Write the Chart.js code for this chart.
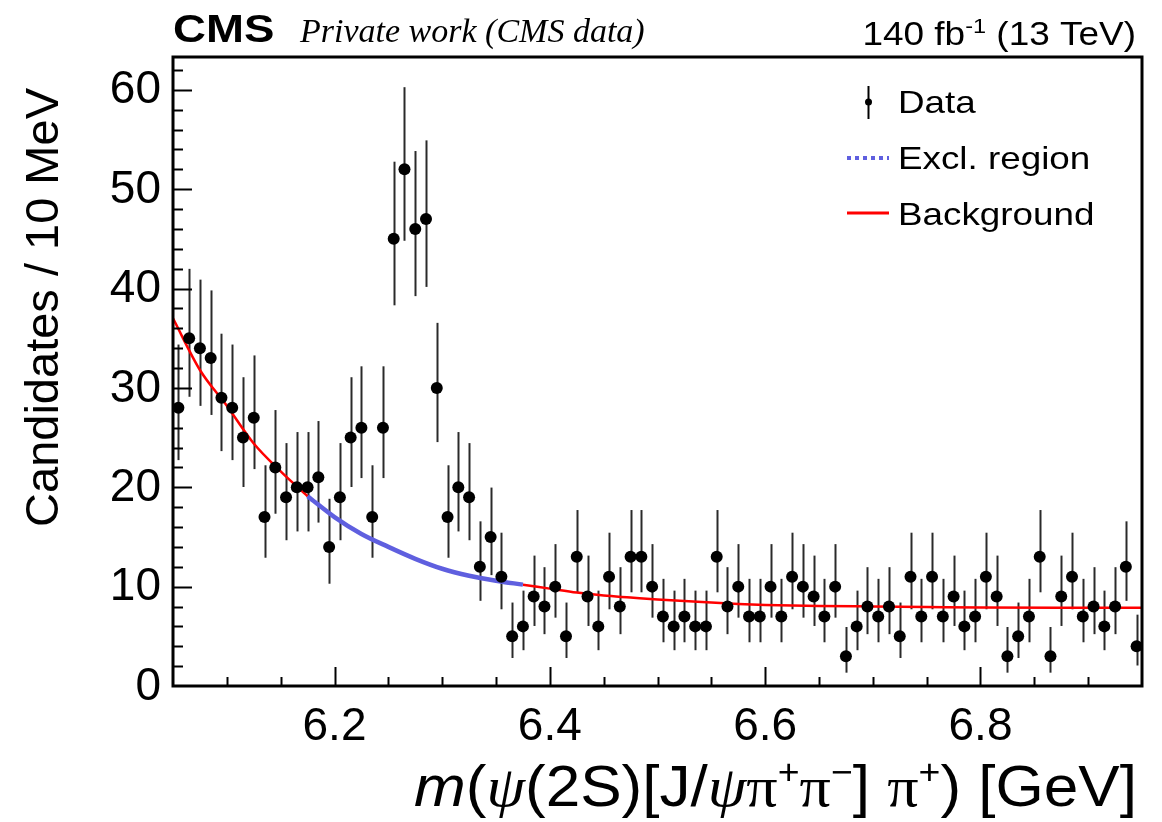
<!DOCTYPE html>
<html lang="en">
<head>
<meta charset="UTF-8" />
<title>m(psi(2S) pi+) - CMS private work</title>
<script src="https://cdn.jsdelivr.net/npm/chart.js"></script>
<style>
  html, body { margin: 0; padding: 0; background: #fff; }
  #wrap { width: 1162px; height: 822px; }
</style>
</head>
<body>
<div id="wrap"><canvas id="massChart" width="1162" height="822"></canvas></div>
<script>
// bin centres (GeV), 10 MeV bins
const massBins = [
  6.055, 6.065, 6.075, 6.085, 6.095, 6.105, 6.115, 6.125, 6.135, 6.145,
  6.155, 6.165, 6.175, 6.185, 6.195, 6.205, 6.215, 6.225, 6.235, 6.245,
  6.255, 6.265, 6.275, 6.285, 6.295, 6.305, 6.315, 6.325, 6.335, 6.345,
  6.355, 6.365, 6.375, 6.385, 6.395, 6.405, 6.415, 6.425, 6.435, 6.445,
  6.455, 6.465, 6.475, 6.485, 6.495, 6.505, 6.515, 6.525, 6.535, 6.545,
  6.555, 6.565, 6.575, 6.585, 6.595, 6.605, 6.615, 6.625, 6.635, 6.645,
  6.655, 6.665, 6.675, 6.685, 6.695, 6.705, 6.715, 6.725, 6.735, 6.745,
  6.755, 6.765, 6.775, 6.785, 6.795, 6.805, 6.815, 6.825, 6.835, 6.845,
  6.855, 6.865, 6.875, 6.885, 6.895, 6.905, 6.915, 6.925, 6.935, 6.945
];
const counts = [
  28, 35, 34, 33, 29, 28, 25, 27, 17, 22,
  19, 20, 20, 21, 14, 19, 25, 26, 17, 26,
  45, 52, 46, 47, 30, 17, 20, 19, 12, 15,
  11, 5, 6, 9, 8, 10, 5, 13, 9, 6,
  11, 8, 13, 13, 10, 7, 6, 7, 6, 6,
  13, 8, 10, 7, 7, 10, 7, 11, 10, 9,
  7, 10, 3, 6, 8, 7, 8, 5, 11, 7,
  11, 7, 9, 6, 7, 11, 9, 3, 5, 7,
  13, 3, 9, 11, 7, 8, 6, 8, 12, 4
];

// background curve
const bkgMass = [
  6.050, 6.075, 6.100, 6.125, 6.150, 6.175, 6.200, 6.225, 6.250, 6.275,
  6.300, 6.325, 6.350, 6.375, 6.400, 6.425, 6.450, 6.475, 6.500, 6.525,
  6.550, 6.575, 6.600, 6.650, 6.700, 6.750, 6.800, 6.875, 6.950
];
const bkgLevel = [
  37.0, 31.8, 28.2, 24.4, 21.6, 19.1, 17.0, 15.3, 14.0, 12.8,
  11.8, 11.1, 10.6, 10.2, 9.8, 9.4, 9.1, 8.9, 8.7, 8.55,
  8.4, 8.25, 8.15, 8.05, 8.0, 7.95, 7.9, 7.88, 7.88
];
const exclRange = [6.175, 6.375];

const xTickValues = [6.2, 6.4, 6.6, 6.8];
const xTickLabels = ['6.2', '6.4', '6.6', '6.8'];
const yTickValues = [0, 10, 20, 30, 40, 50, 60];
const yTickLabels = ['0', '10', '20', '30', '40', '50', '60'];

const SANS = '"Liberation Sans", Arial, Helvetica, sans-serif';
const SERIF = '"Liberation Serif", "Times New Roman", serif';

const dataPts = massBins.map((m, i) => ({ x: m, y: counts[i] }));
const bkgPts = bkgMass.map((m, i) => ({ x: m, y: bkgLevel[i] }));
const bkgLow = bkgPts.filter(p => p.x <= exclRange[0]);
const bkgExcl = bkgPts.filter(p => p.x >= exclRange[0] && p.x <= exclRange[1]);
const bkgHigh = bkgPts.filter(p => p.x >= exclRange[1]);

// approximate poisson (Gehrels) 1 sigma interval
function poissonErr(n) {
  return { lo: n > 0 ? Math.sqrt(n - 0.25) : 0, hi: 1 + Math.sqrt(n + 0.75) };
}

// draw a run of text pieces, each with its own font / raise, stretched by sx
function drawPieces(ctx, pieces, x, y, align, sx) {
  sx = sx || 1;
  let total = 0;
  pieces.forEach(p => { ctx.font = p.font; p.w = ctx.measureText(p.t).width; total += p.w; });
  const x0 = align === 'right' ? x - total * sx : x;
  ctx.save();
  ctx.translate(x0, y);
  ctx.scale(sx, 1);
  ctx.textAlign = 'left';
  ctx.textBaseline = 'alphabetic';
  let cx = 0;
  pieces.forEach(p => {
    ctx.font = p.font;
    ctx.fillText(p.t, cx, -(p.dy || 0));
    cx += p.w;
  });
  ctx.restore();
}

const rootStyle = {
  id: 'rootStyle',
  beforeDatasetsDraw(chart) {
    const ctx = chart.ctx, xs = chart.scales.x, ys = chart.scales.y;
    ctx.save();
    ctx.strokeStyle = '#2a2a2a';
    ctx.lineWidth = 2;
    dataPts.forEach(p => {
      const e = poissonErr(p.y);
      const px = Math.round(xs.getPixelForValue(p.x)) + 0.5;
      ctx.beginPath();
      ctx.moveTo(px, ys.getPixelForValue(p.y - e.lo));
      ctx.lineTo(px, ys.getPixelForValue(p.y + e.hi));
      ctx.stroke();
    });
    ctx.restore();
  },
  afterDraw(chart) {
    const ctx = chart.ctx, xs = chart.scales.x, ys = chart.scales.y;
    const a = chart.chartArea;
    ctx.save();
    ctx.fillStyle = '#000';
    ctx.strokeStyle = '#000';

    // inward ticks
    ctx.lineWidth = 2;
    for (let v = 2; v < ys.max; v += 2) {
      const py = Math.round(ys.getPixelForValue(v)) + 0.5;
      const len = (v % 10 === 0) ? 19 : 10;
      ctx.beginPath(); ctx.moveTo(a.left, py); ctx.lineTo(a.left + len, py); ctx.stroke();
    }
    for (let k = 1; k < 18; k++) {
      const v = 6.05 + k * 0.05;
      const px = Math.round(xs.getPixelForValue(v)) + 0.5;
      const len = (k % 4 === 3) ? 19 : 9;
      ctx.beginPath(); ctx.moveTo(px, a.bottom); ctx.lineTo(px, a.bottom - len); ctx.stroke();
    }

    // frame
    ctx.lineWidth = 3;
    ctx.strokeRect(a.left, a.top, a.right - a.left, a.bottom - a.top);

    // tick labels
    ctx.font = '46px ' + SANS;
    ctx.textAlign = 'right';
    ctx.textBaseline = 'middle';
    yTickValues.forEach((v, i) => ctx.fillText(yTickLabels[i], a.left - 12, ys.getPixelForValue(v) + 1));
    ctx.textAlign = 'center';
    ctx.textBaseline = 'alphabetic';
    xTickValues.forEach((v, i) => ctx.fillText(xTickLabels[i], xs.getPixelForValue(v), 740));

    // y axis title
    ctx.save();
    ctx.translate(58, 88);
    ctx.rotate(-Math.PI / 2);
    ctx.font = '47px ' + SANS;
    ctx.textAlign = 'right';
    ctx.textBaseline = 'alphabetic';
    ctx.fillText('Candidates / 10 MeV', 0, 0);
    ctx.restore();

    // x axis title
    const fs = 58;
    const norm = fs + 'px ' + SANS;
    const sup = Math.round(fs * 0.6) + 'px ' + SANS;
    const greek = 'italic ' + fs + 'px ' + SERIF;
    const pi = fs + 'px ' + SERIF;
    drawPieces(ctx, [
      { t: 'm', font: 'italic ' + norm },
      { t: '(', font: norm },
      { t: 'ψ', font: greek },
      { t: '(2S)[J/', font: norm },
      { t: 'ψ', font: greek },
      { t: 'π', font: pi },
      { t: '+', font: sup, dy: 22 },
      { t: 'π', font: pi },
      { t: '−', font: sup, dy: 22 },
      { t: '] ', font: norm },
      { t: 'π', font: pi },
      { t: '+', font: sup, dy: 22 },
      { t: ') [GeV]', font: norm }
    ], 1137, 806, 'right', 1.07);

    // header
    drawPieces(ctx, [{ t: 'CMS', font: 'bold 38px ' + SANS }], 173, 42, 'left', 1.2);
    drawPieces(ctx, [{ t: 'Private work (CMS data)', font: 'italic 34px ' + SERIF }], 300, 42, 'left', 1);
    drawPieces(ctx, [
      { t: '140 fb', font: '33px ' + SANS },
      { t: '-1', font: '21px ' + SANS, dy: 12 },
      { t: ' (13 TeV)', font: '33px ' + SANS }
    ], 1136, 45, 'right', 1.12);

    // legend
    ctx.lineWidth = 2;
    ctx.beginPath(); ctx.moveTo(868.5, 86); ctx.lineTo(868.5, 119); ctx.stroke();
    ctx.beginPath(); ctx.arc(868.5, 102, 3.5, 0, Math.PI * 2); ctx.fill();
    drawPieces(ctx, [{ t: 'Data', font: '32px ' + SANS }], 898, 113, 'left', 1.15);

    ctx.strokeStyle = '#5f5fdf';
    ctx.lineWidth = 4;
    ctx.setLineDash([4, 4]);
    ctx.beginPath(); ctx.moveTo(847, 158); ctx.lineTo(889, 158); ctx.stroke();
    ctx.setLineDash([]);
    drawPieces(ctx, [{ t: 'Excl. region', font: '32px ' + SANS }], 898, 169, 'left', 1.15);

    ctx.strokeStyle = '#ff0000';
    ctx.lineWidth = 3;
    ctx.beginPath(); ctx.moveTo(847, 213); ctx.lineTo(889, 213); ctx.stroke();
    drawPieces(ctx, [{ t: 'Background', font: '32px ' + SANS }], 898, 225, 'left', 1.15);

    ctx.restore();
  }
};

const ctx = document.getElementById('massChart').getContext('2d');
new Chart(ctx, {
  type: 'scatter',
  data: {
    datasets: [
      {
        label: 'Data',
        data: dataPts,
        backgroundColor: '#000',
        borderWidth: 0,
        pointRadius: 6,
        order: 0
      },
      {
        label: 'Background',
        data: bkgLow,
        showLine: true,
        cubicInterpolationMode: 'monotone',
        borderColor: '#ff0000',
        borderWidth: 2.5,
        pointRadius: 0,
        order: 2
      },
      {
        label: 'Excl. region',
        data: bkgExcl,
        showLine: true,
        cubicInterpolationMode: 'monotone',
        borderColor: '#5f5fdf',
        borderWidth: 4.5,
        pointRadius: 0,
        order: 1
      },
      {
        label: 'Background (high)',
        data: bkgHigh,
        showLine: true,
        cubicInterpolationMode: 'monotone',
        borderColor: '#ff0000',
        borderWidth: 2.5,
        pointRadius: 0,
        order: 2
      }
    ]
  },
  options: {
    responsive: false,
    animation: false,
    layout: { padding: { left: 173, right: 20, top: 57, bottom: 136 } },
    scales: {
      x: { type: 'linear', min: 6.05, max: 6.95, display: false },
      y: { type: 'linear', min: 0, max: 63.3, display: false }
    },
    plugins: {
      legend: { display: false },
      tooltip: { enabled: false }
    }
  },
  plugins: [rootStyle]
});
</script>
</body>
</html>
